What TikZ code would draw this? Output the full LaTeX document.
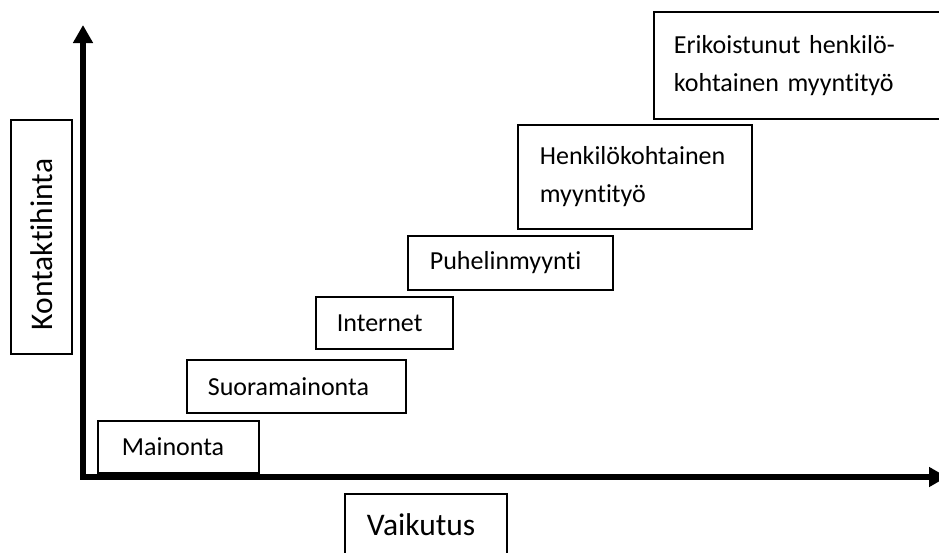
\documentclass[tikz,border=0pt]{standalone}
\usepackage{fontspec}
\setmainfont{Carlito}[Ligatures={NoCommon}, RawFeature={-liga}]
\usetikzlibrary{arrows.meta}
\newcommand{\boxfont}{\fontsize{26}{38}\selectfont}
\newcommand{\axisfont}{\fontsize{31.5}{38}\selectfont}
\tikzstyle{boxes} = [rectangle, anchor=north west, inner xsep=21pt, align=left, draw=black, line width=1.8pt, font=\boxfont]
\tikzstyle{axis} = [line width=6pt, {Triangle[length=18pt, width=19pt]}-{Triangle[length=18pt, width=19pt]}]

\begin{document}
\begin{tikzpicture}[x=1pt, y=-1pt]

    \useasboundingbox (0,0) rectangle (939,552);
    \clip (0,0) rectangle (939,552);

    \coordinate (ytop) at (83,25);
    \coordinate (origin) at (83,477);
    \coordinate (xend) at (947,477);

    \draw[axis] (ytop) -- (origin) -- (xend);

    \node (mainonta) [boxes, inner xsep=24pt, text width=113pt, minimum height=52pt] at (97,420) {Mainonta};

    \node (suora) [boxes, text width=177pt, minimum height=53pt] at (186,359) {Suoramainonta};

    \node (internet) [boxes, text width=95pt, minimum height=52pt] at (315,296) {Internet};

    \node (puhelin) [boxes, inner xsep=22pt, text width=161pt, minimum height=54pt] at (407,235) {Puhelinmyynti};

    \node (henkilo) [boxes, inner xsep=22pt, text width=190pt, minimum height=104pt] at (517,124) {Henkilökohtainen\\myyntityö};

    \node (erikois) [boxes, inner xsep=20pt, text width=280pt, minimum height=107pt] at (653,11) {Erikoistunut henkilö-\\kohtainen myyntityö};

    \node (vaikutus) [boxes, inner xsep=22pt, text width=118pt, minimum height=62pt, font=\axisfont] at (344,493) {Vaikutus};

    \node (kontakti) [boxes, anchor=center, rotate=90, inner xsep=24pt, text width=186pt, minimum height=61pt, font=\axisfont] at (41.5,237) {Kontaktihinta};

\end{tikzpicture}
\end{document}
